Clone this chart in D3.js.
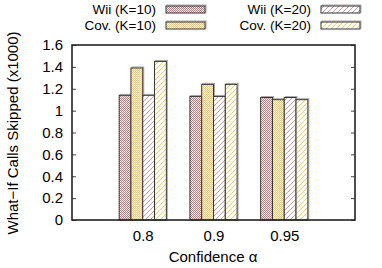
<!DOCTYPE html>
<html>
<head>
<meta charset="utf-8">
<script src="https://cdn.jsdelivr.net/npm/d3@7"></script>
<style>
  body { margin: 0; background: #fff; }
  svg { font-family: "Liberation Sans", Arial, sans-serif; }
</style>
</head>
<body>
<svg width="382" height="268"></svg>
<script>
// ************** Data *****************
const categories = ["0.8", "0.9", "0.95"];
const seriesNames = ["Wii (K=10)", "Cov. (K=10)", "Wii (K=20)", "Cov. (K=20)"];
const wiiK10 = [1.14, 1.13, 1.12];
const covK10 = [1.39, 1.24, 1.10];
const wiiK20 = [1.14, 1.13, 1.12];
const covK20 = [1.45, 1.24, 1.10];
const yTicks = [0, 0.2, 0.4, 0.6, 0.8, 1, 1.2, 1.4, 1.6];

const series = [wiiK10, covK10, wiiK20, covK20];
const patternIds = ["p-wii10", "p-cov10", "p-wii20", "p-cov20"];

// *************** Graph Setup *****************
let svg = d3.select("svg");

const plotLeft = 72, plotRight = 355, plotTop = 45, plotBottom = 220;
const fontSize = 15;

let xScale = d3.scaleLinear().domain([-1, 3]).range([plotLeft, plotRight]);
let yScale = d3.scaleLinear().domain([0, 1.6]).range([plotBottom, plotTop]);

// patterns
let defs = svg.append("defs");
function checker(id, color) {
    let p = defs.append("pattern").attr("id", id)
        .attr("patternUnits", "userSpaceOnUse").attr("width", 2).attr("height", 2);
    p.append("rect").attr("width", 2).attr("height", 2).attr("fill", "#fff");
    p.append("rect").attr("width", 1).attr("height", 1).attr("fill", color);
    p.append("rect").attr("x", 1).attr("y", 1).attr("width", 1).attr("height", 1).attr("fill", color);
}
function stripes(id, color) {
    let p = defs.append("pattern").attr("id", id)
        .attr("patternUnits", "userSpaceOnUse").attr("width", 5).attr("height", 5);
    p.append("rect").attr("width", 5).attr("height", 5).attr("fill", "#fff");
    p.append("path").attr("d", "M-1,1 L1,-1 M0,5 L5,0 M4,6 L6,4")
        .attr("stroke", color).attr("stroke-width", 1);
}
checker(patternIds[0], "#c87272");
checker(patternIds[1], "#ffc653");
stripes(patternIds[2], "#d89a9a");
stripes(patternIds[3], "#ffcc66");

// bars
const barW = 1 / 6;
let chart = svg.append("g");
series.forEach(function (vals, s) {
    let g = chart.append("g");
    g.selectAll(".shadow")
        .data(vals)
        .enter().append("rect")
        .attr("class", "shadow")
        .attr("x", function (d, i) { return xScale(i - 2 * barW + s * barW) + 1; })
        .attr("y", function (d) { return yScale(d) - 1; })
        .attr("width", xScale(barW) - xScale(0))
        .attr("height", function (d) { return plotBottom - yScale(d); })
        .attr("fill", "none")
        .attr("stroke", "#aaa")
        .attr("stroke-width", 1);
    g.selectAll(".bar")
        .data(vals)
        .enter().append("rect")
        .attr("class", "bar")
        .attr("x", function (d, i) { return xScale(i - 2 * barW + s * barW); })
        .attr("y", function (d) { return yScale(d); })
        .attr("width", xScale(barW) - xScale(0))
        .attr("height", function (d) { return plotBottom - yScale(d); })
        .attr("fill", "url(#" + patternIds[s] + ")")
        .attr("stroke", "#333")
        .attr("stroke-width", 1);
});

// y axis (left, ticks inward, mirrored on right)
let yAxis = svg.append("g")
    .attr("transform", "translate(" + plotLeft + ",0)")
    .call(d3.axisRight(yScale).tickValues(yTicks).tickSize(4).tickFormat(d3.format("~g")));
yAxis.select(".domain").remove();
yAxis.selectAll("line").attr("stroke", "#444");
yAxis.selectAll("text")
    .attr("x", -9).attr("text-anchor", "end")
    .attr("font-size", fontSize).attr("fill", "#000");

let yAxisR = svg.append("g")
    .attr("transform", "translate(" + plotRight + ",0)")
    .call(d3.axisLeft(yScale).tickValues(yTicks).tickSize(4).tickFormat(""));
yAxisR.select(".domain").remove();
yAxisR.selectAll("line").attr("stroke", "#444");

// x axis labels
let xAxis = svg.append("g")
    .attr("transform", "translate(0," + plotBottom + ")")
    .call(d3.axisBottom(xScale).tickValues([0, 1, 2]).tickSize(0)
        .tickFormat(function (d) { return categories[d]; }));
xAxis.select(".domain").remove();
xAxis.selectAll("text").attr("dy", 0).attr("y", 21)
    .attr("font-size", fontSize).attr("fill", "#000");

// border
svg.append("rect")
    .attr("x", plotLeft).attr("y", plotTop)
    .attr("width", plotRight - plotLeft).attr("height", plotBottom - plotTop)
    .attr("fill", "none").attr("stroke", "#222").attr("stroke-width", 1.6);

// axis titles
svg.append("text")
    .attr("x", 213).attr("y", 262)
    .attr("text-anchor", "middle").attr("font-size", fontSize)
    .text("Confidence α");
svg.append("text")
    .attr("transform", "translate(18,133) rotate(-90)")
    .attr("text-anchor", "middle").attr("font-size", fontSize)
    .text("What\u2212If Calls Skipped (x1000)");

// legend
const legendPos = [[156, 166, 9], [156, 166, 25], [311, 321, 9], [311, 321, 25]];
let legend = svg.append("g");
seriesNames.forEach(function (name, s) {
    let lp = legendPos[s];
    legend.append("text")
        .attr("x", lp[0]).attr("y", lp[2]).attr("dy", "0.35em")
        .attr("text-anchor", "end").attr("font-size", 13.5)
        .text(name);
    legend.append("rect")
        .attr("x", lp[1] + 1).attr("y", lp[2] - 4)
        .attr("width", 39).attr("height", 7)
        .attr("fill", "none").attr("stroke", "#aaa");
    legend.append("rect")
        .attr("x", lp[1]).attr("y", lp[2] - 3)
        .attr("width", 39).attr("height", 7)
        .attr("fill", "url(#" + patternIds[s] + ")")
        .attr("stroke", "#333");
});
</script>
</body>
</html>
